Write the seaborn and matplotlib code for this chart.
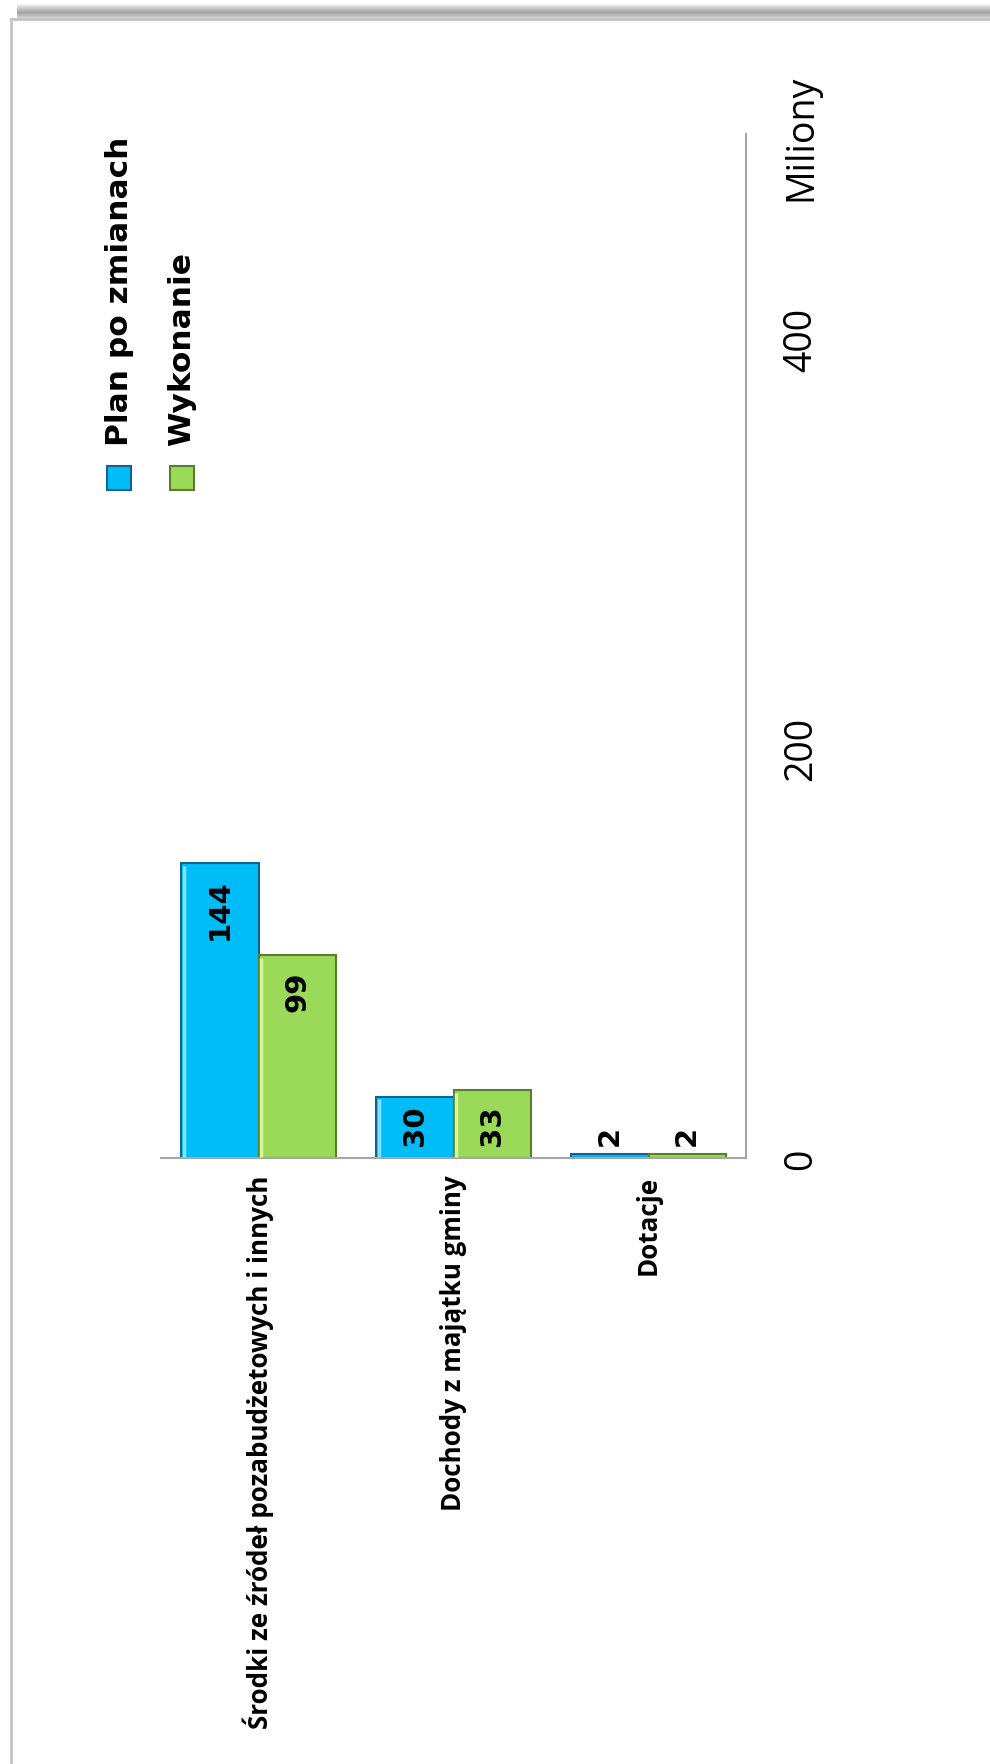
import pandas as pd
import seaborn as sns
import matplotlib.pyplot as plt
from matplotlib.patches import Rectangle
from matplotlib.lines import Line2D

# chart data
categories = [
    "Środki ze źródeł pozabudżetowych i innych",
    "Dochody z majątku gminy",
    "Dotacje",
]
series = ["Plan po zmianach", "Wykonanie"]
plan_values = [144, 30, 2]
exec_values = [99, 33, 2]
value_ticks = [0, 200, 400]
value_max = 500
unit_label = "Miliony"

colors = {"Plan po zmianach": "#00BDF8", "Wykonanie": "#9BDA58"}
edges = {"Plan po zmianach": "#16628C", "Wykonanie": "#5C7C30"}
highlights = {"Plan po zmianach": "#7FE4FF", "Wykonanie": "#D4F79A"}

df = pd.DataFrame(
    {
        "Kategoria": categories * 2,
        "Seria": [series[0]] * len(plan_values) + [series[1]] * len(exec_values),
        "Wartosc": plan_values + exec_values,
    }
)

sns.set_style("white")
plt.rcParams["font.family"] = ["Open Sans", "DejaVu Sans"]
plt.rcParams["text.color"] = "black"
plt.rcParams["xtick.color"] = "black"
plt.rcParams["ytick.color"] = "black"

W, H = 990, 1765
fig = plt.figure(figsize=(W / 100, H / 100), dpi=100)
fig.patch.set_facecolor("white")

# axes box in pixels: left 161, right 746, top 135, bottom 1159
ax = fig.add_axes([161 / W, 1 - 1159 / H, (746 - 161) / W, (1159 - 135) / H])
sns.barplot(
    data=df,
    x="Kategoria",
    y="Wartosc",
    hue="Seria",
    order=categories,
    hue_order=series,
    palette=colors,
    width=0.79,
    saturation=1,
    legend=False,
    ax=ax,
)
ax.set_xlim(-0.5, len(categories) - 0.5)

# edges + light bevel on the left side of each bar
for container, s in zip(ax.containers, series):
    for bar in container:
        bar.set_edgecolor(edges[s])
        bar.set_linewidth(1.5)
        x0 = bar.get_x()
        h = bar.get_height()
        if h > 5:
            ax.plot([x0 + 0.012, x0 + 0.012], [0.5, h - 1.2], color=highlights[s], lw=2.5,
                    solid_capstyle="butt", zorder=3)

# data labels, rotated: inside the top of tall bars, near the base for short ones
for container in ax.containers:
    for bar in container:
        h = bar.get_height()
        x = bar.get_x() + bar.get_width() / 2
        if h >= 50:
            ax.annotate(f"{h:.0f}", (x, h), xytext=(0, -11), textcoords="offset points",
                        rotation=90, ha="center", va="top", fontsize=21,
                        fontweight="bold", family="DejaVu Sans", zorder=5)
        else:
            ax.annotate(f"{h:.0f}", (x, 0), xytext=(0, 9), textcoords="offset points",
                        rotation=90, ha="center", va="bottom", fontsize=21,
                        fontweight="bold", family="DejaVu Sans", zorder=5)

ax.set_ylim(0, value_max)
ax.set_yticks(value_ticks)
ax.yaxis.tick_right()
ax.tick_params(axis="y", length=0, pad=26, labelsize=27, labelrotation=90)
for lab in ax.get_yticklabels():
    lab.set_va("center")

ax.set_xticks(range(len(categories)))
ax.set_xticklabels(categories, rotation=90, fontweight="bold", fontsize=18.7)
ax.tick_params(axis="x", length=0, pad=12)
ax.set_xlabel("")
ax.set_ylabel("")

for side in ["left", "top"]:
    ax.spines[side].set_visible(False)
for side in ["right", "bottom"]:
    ax.spines[side].set_color("#A6A6A6")
    ax.spines[side].set_linewidth(1.5)

# unit label
fig.text(801 / W, 1 - 138 / H, unit_label, rotation=90, ha="center", va="center", fontsize=27)

# legend drawn by hand (rotated)
legend_x = [119, 182]
for s, lx in zip(series, legend_x):
    fig.text(lx / W, 1 - 446 / H, s, rotation=90, ha="center", va="bottom",
             fontsize=22.5, fontweight="bold", family="DejaVu Sans")
    fig.add_artist(Rectangle(((lx - 12) / W, 1 - 491 / H), 24 / W, 24 / H,
                             facecolor=colors[s], edgecolor=edges[s], lw=1.5,
                             transform=fig.transFigure))

# outer frame with shadow on top
fig.add_artist(Rectangle((11 / W, -0.05), 1.2, 1 - 20 / H + 0.05, fill=False,
                         edgecolor="#C4C4C4", lw=2, transform=fig.transFigure))
for i in range(14):
    a = 0.6 * (1 - abs(i - 8) / 9)
    fig.add_artist(Line2D([17 / W, 1], [1 - (5 + i) / H] * 2, color="#7A7A7A",
                          alpha=a, lw=1, transform=fig.transFigure))

fig.savefig("out.png", dpi=100)
